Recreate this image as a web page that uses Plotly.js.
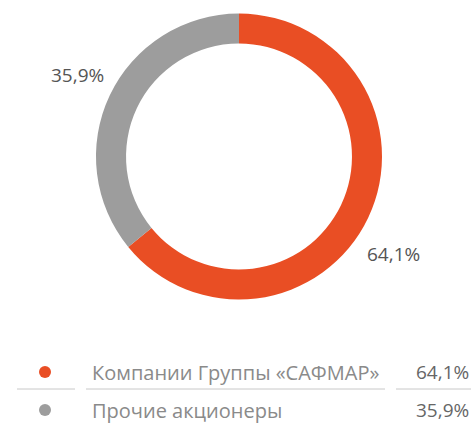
<!DOCTYPE html>
<html><head><meta charset="utf-8">
<script src="https://cdn.plot.ly/plotly-3.0.1.min.js"></script>
<style>html,body{margin:0;padding:0;background:#fff;}#chart{width:471px;height:423px;}</style>
</head><body><div id="chart"></div>
<script>
const labels = ["Компании Группы «САФМАР»", "Прочие акционеры"];
const values = [64.1, 35.9];
const valueText = ["64,1%", "35,9%"];
const colors = ["#E94E24", "#9D9D9D"];

const W = 471, H = 423;
const px = x => x / W, py = y => 1 - y / H;

const trace = {
  type: "pie",
  values: values,
  labels: labels,
  marker: {colors: colors, line: {width: 0}},
  hole: 0.79,
  sort: false,
  direction: "clockwise",
  rotation: 0,
  textinfo: "none",
  hoverinfo: "label+percent",
  domain: {x: [px(96), px(382)], y: [py(300), py(13)]},
  showlegend: false
};

const font = "'Open Sans', Lato, 'DejaVu Sans', sans-serif";
const annotations = [
  {x: px(393), y: py(253.5), text: valueText[0]},
  {x: px(77.5), y: py(75.5), text: valueText[1]}
].map(a => Object.assign({xref: "paper", yref: "paper", showarrow: false,
  font: {family: font, size: 19, color: "#555"}, xanchor: "center", yanchor: "middle"}, a));

const rowsY = [372, 410];
const shapes = [];
labels.forEach((l, i) => {
  shapes.push({type: "circle", xref: "paper", yref: "paper",
    x0: px(39), x1: px(51), y0: py(rowsY[i] + 6), y1: py(rowsY[i] - 6),
    fillcolor: colors[i], line: {width: 0}});
  annotations.push({xref: "paper", yref: "paper", x: px(90), y: py(rowsY[i]), text: l,
    showarrow: false, xanchor: "left", yanchor: "middle",
    font: {family: font, size: 20, color: "#8a8a8a"}});
  annotations.push({xref: "paper", yref: "paper", x: px(471), y: py(rowsY[i]), text: valueText[i],
    showarrow: false, xanchor: "right", yanchor: "middle",
    font: {family: font, size: 19, color: "#666"}});
});
[[17, 75], [86, 385], [396, 471]].forEach(s => shapes.push({type: "line", xref: "paper", yref: "paper",
  x0: px(s[0]), x1: px(s[1]), y0: py(389), y1: py(389), line: {color: "#c8c8c8", width: 1}}));

Plotly.newPlot("chart", [trace], {
  width: W, height: H, margin: {l: 0, r: 0, t: 0, b: 0},
  paper_bgcolor: "#fff", plot_bgcolor: "#fff",
  annotations: annotations, shapes: shapes
}, {displayModeBar: false, staticPlot: true});
</script></body></html>
